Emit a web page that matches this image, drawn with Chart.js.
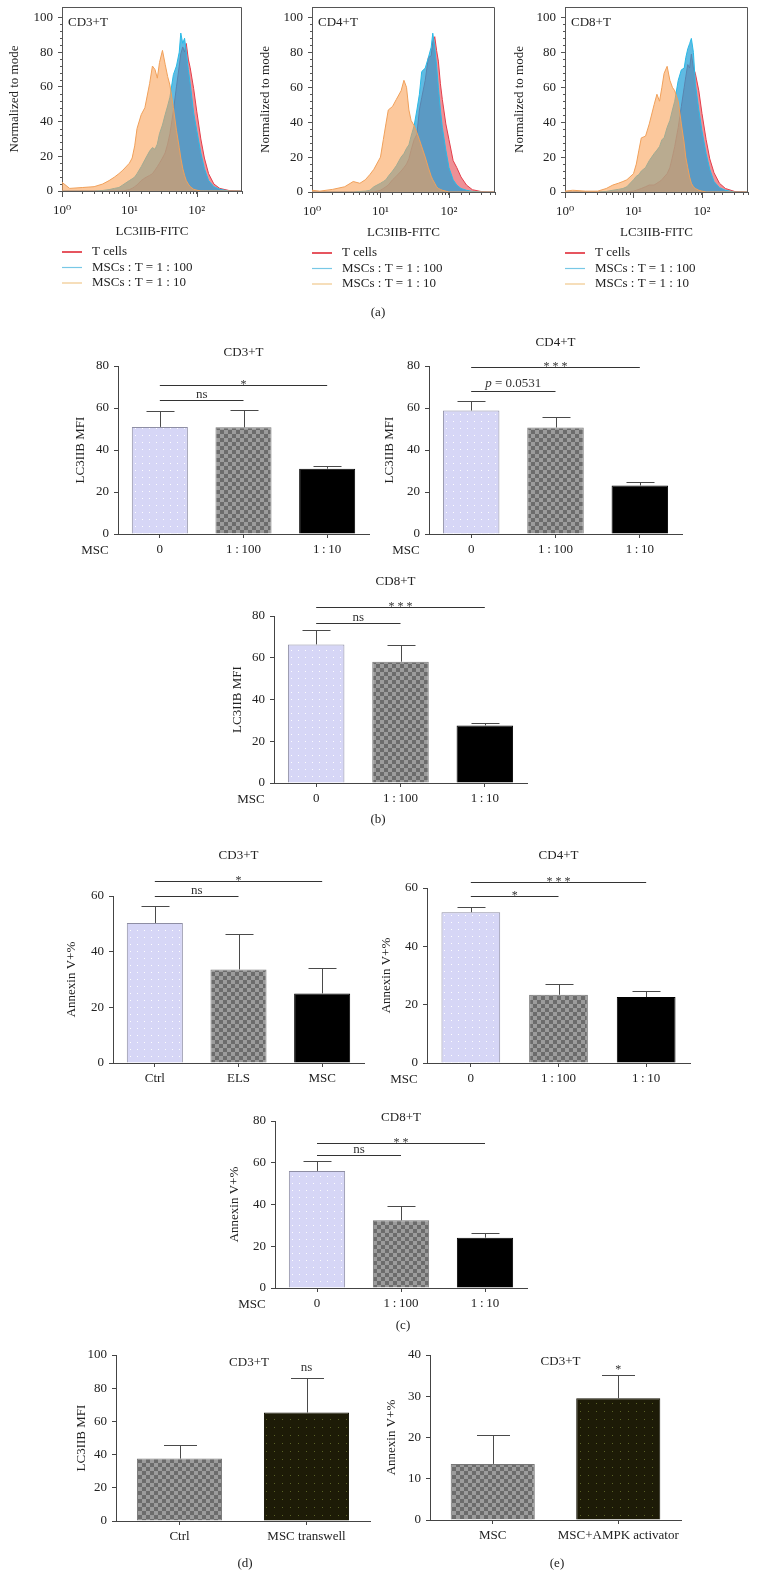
<!DOCTYPE html>
<html>
<head>
<meta charset="utf-8">
<script src="https://cdn.jsdelivr.net/npm/chart.js@4.4.1/dist/chart.umd.min.js"></script>
<style>
  body { margin: 0; background: #fff; }
  #page { position: relative; width: 757px; height: 1589px; overflow: hidden;
          font-family: "Liberation Serif", "DejaVu Serif", serif; color: #222; }
  .box { position: absolute; }
  .panel-label { position: absolute; font-size: 13px; transform: translate(-50%, -50%); white-space: nowrap; }
</style>
</head>
<body>
<div id="page"></div>
<script>
// (a) flow histograms, LC3IIB-FITC on a log axis, shared sampling points
const histX = [1, 1.3, 2, 3, 4, 5, 6, 7, 8, 10, 11, 12, 13, 15, 17, 20, 22, 24, 26, 28, 31, 34, 37, 40, 45, 50, 55, 58, 62, 66, 70, 75, 80, 90, 100, 115, 130, 150, 180, 220, 300, 470];
const histLabels = ['T cells', 'MSCs : T = 1 : 100', 'MSCs : T = 1 : 10'];

const cd3Tcells = [0,0,0,0,0,0,0,0,0,0.8,1.5,2.5,3.5,6,7.5,9,10,12,14,16,19,22,27,33,46,60,72,79,83,80,85,76,71,59,46,30,19,10,4,1.5,0.3,0];
const cd3Msc100 = [0,0,0,0,0.3,0.8,1.5,2,3.5,6,7,8,10,14,18,23,25,24,27,33,38,44,49,54,67,72,80,91,85,88,80,70,62,45,35,22,13,6,2.5,1,0,0];
const cd3Msc10  = [5,1.5,2,2.5,4,6,8,10,12,16,19,26,36,44,48,62,72,70,65,74,81,73,66,61,48,35,25,19,13,9,6,4,2.5,1,0.5,0,0,0,0,0,0,0];

const cd4Tcells = [0,0,0,0,0,0,0,0,0,1,2,3,4,7,9,12,14,16,19,24,30,33,47,54,64,77,78,86,89,81,75,62,53,39,30,18,14,8.6,4,1.3,0.2,0];
const cd4Msc100 = [0,0,0,0,0,0.3,0.5,1,3,5,6,7,9,12,15,20,22,25,27,32,38,47,56,69,71,77,83,91,83,72,60,47,37,24,14,7,4,2,1,0.3,0,0];
const cd4Msc10  = [1,0.5,1.5,3,6,5,7,10,13,20,30,39,47,49,53,58,64,60,47,41,38,34,30,26,20,14,9,7,5,3,2,1.5,1,0.5,0,0,0,0,0,0,0,0];

const cd8Tcells = [0,0,0,0,0,0,0,0,0,0.5,1,1.5,2,3,4,4,5,6,7,8.6,10.5,14,20,26,37,49,60,66,73,71,79,71,68,58,45,30,19,11,5,2,0.3,0];
const cd8Msc100 = [0,0,0,0,0.3,1,1.5,2,3,7,9,10,12,14,18,22,24,26,30,31,37,41,47,52,64,70,71,77,82,85,88,80,62,47,35,22,13,6,2.5,1,0,0];
const cd8Msc10  = [0.5,1,0.5,0.5,2,4,5,6,7,10.5,16,24,31,32,39,50,56,52,60,68,72,64,60,58,52,39,28,20,14,8.6,5,3,2,1,0.5,0,0,0,0,0,0,0];

// bar chart categories
const mscGroups = ['0', '1\u2009:\u2009100', '1\u2009:\u200910'];
const treatGroups = ['Ctrl', 'ELS', 'MSC'];
const transwellGroups = ['Ctrl', 'MSC transwell'];
const ampkGroups = ['MSC', 'MSC+AMPK activator'];

// (b) LC3IIB MFI, mean and error
const lc3Cd3 = [51.0, 50.8, 31.1];
const lc3Cd3Err = [7.7, 8.4, 1.4];
const lc3Cd4 = [58.8, 50.7, 23.1];
const lc3Cd4Err = [4.4, 4.9, 1.8];
const lc3Cd8 = [66.4, 58.1, 27.6];
const lc3Cd8Err = [6.7, 8.2, 1.3];

// (c) Annexin V+ %
const annCd3 = [50.3, 33.6, 25.0];
const annCd3Err = [6.1, 12.8, 9.0];
const annCd4 = [51.7, 23.4, 22.6];
const annCd4Err = [1.7, 3.6, 2.2];
const annCd8 = [56.1, 32.4, 24.1];
const annCd8Err = [4.9, 7.1, 2.2];

// (d) and (e)
const transwellMfi = [37.6, 65.3];
const transwellErr = [8.0, 20.7];
const ampkAnnexin = [13.6, 29.5];
const ampkErr = [7.0, 5.6];

// significance brackets: from/to bar index, height in data units
const lc3Cd3Sig = [{ from: 0, to: 1, y: 64, text: 'ns' }, { from: 0, to: 2, y: 71, text: '*' }];
const lc3Cd4Sig = [{ from: 0, to: 1, y: 68.3, text: 'p = 0.0531' }, { from: 0, to: 2, y: 79.5, text: '***' }];
const lc3Cd8Sig = [{ from: 0, to: 1, y: 76.8, text: 'ns' }, { from: 0, to: 2, y: 84.3, text: '***' }];
const annCd3Sig = [{ from: 0, to: 1, y: 60.1, text: 'ns' }, { from: 0, to: 2, y: 65.5, text: '*' }];
const annCd4Sig = [{ from: 0, to: 1, y: 57.3, text: '*' }, { from: 0, to: 2, y: 62.2, text: '***' }];
const annCd8Sig = [{ from: 0, to: 1, y: 63.9, text: 'ns' }, { from: 0, to: 2, y: 69.6, text: '**' }];

const FONT = '"Liberation Serif", "DejaVu Serif", serif';
Chart.defaults.font.family = FONT;
Chart.defaults.font.size = 13;
Chart.defaults.color = '#222';
Chart.defaults.animation = false;

const page = document.getElementById('page');

function makeCanvas(plot, pad) {
  const l = Math.round(plot.l), t = Math.round(plot.t);
  const w = Math.round(plot.r) - l, h = Math.round(plot.b) - t;
  const div = document.createElement('div');
  div.className = 'box';
  div.style.left = (l - pad.left) + 'px';
  div.style.top = (t - pad.top) + 'px';
  const canvas = document.createElement('canvas');
  canvas.width = w + pad.left + pad.right;
  canvas.height = h + pad.top + pad.bottom;
  div.appendChild(canvas);
  page.appendChild(div);
  return canvas;
}

function addLabel(text, x, y) {
  const el = document.createElement('div');
  el.className = 'panel-label';
  el.textContent = text;
  el.style.left = x + 'px';
  el.style.top = y + 'px';
  page.appendChild(el);
}

// pattern fills for the bars
function tile(size, paint) {
  const c = document.createElement('canvas');
  c.width = c.height = size;
  paint(c.getContext('2d'));
  return c;
}

function makeFill(ctx, kind) {
  if (kind === 'dots') {
    const t = tile(7, g => {
      g.fillStyle = '#d6d6f6'; g.fillRect(0, 0, 7, 7);
      g.fillStyle = 'rgba(255,255,255,0.95)'; g.fillRect(3, 3, 1, 1);
    });
    return { bg: ctx.createPattern(t, 'repeat'), border: '#8e8ea4' };
  }
  if (kind === 'checker') {
    const t = tile(8, g => {
      g.fillStyle = '#9c9c9c'; g.fillRect(0, 0, 8, 8);
      g.fillStyle = '#6c6c6c'; g.fillRect(0, 0, 4, 4); g.fillRect(4, 4, 4, 4);
    });
    return { bg: ctx.createPattern(t, 'repeat'), border: '#777' };
  }
  if (kind === 'olive') {
    const t = tile(8, g => {
      g.fillStyle = '#1d1b07'; g.fillRect(0, 0, 8, 8);
      g.fillStyle = '#5a6226'; g.fillRect(4, 4, 1, 1);
    });
    return { bg: ctx.createPattern(t, 'repeat'), border: '#141305' };
  }
  return { bg: '#000', border: '#000' };
}

function sigText(ctx, text, x, yLine) {
  if (text.startsWith('p')) {
    const rest = text.slice(1);
    ctx.font = 'italic 13px ' + FONT;
    const pw = ctx.measureText('p').width;
    ctx.font = '13px ' + FONT;
    const rw = ctx.measureText(rest).width;
    const x0 = x - (pw + rw) / 2;
    ctx.textAlign = 'left';
    ctx.font = 'italic 13px ' + FONT;
    ctx.fillText('p', x0, yLine - 5);
    ctx.font = '13px ' + FONT;
    ctx.fillText(rest, x0 + pw, yLine - 5);
    ctx.textAlign = 'center';
  } else if (text.startsWith('*')) {
    ctx.font = '12px ' + FONT;
    ctx.fillText(text.split('').join(' '), x, yLine + 2);
  } else {
    ctx.font = '13px ' + FONT;
    ctx.fillText(text, x, yLine - 3);
  }
}

const barExtras = {
  id: 'barExtras',
  afterDatasetsDraw(chart, args, o) {
    const { ctx, chartArea: area, scales: { x, y } } = chart;
    const values = chart.data.datasets[0].data;
    ctx.save();
    ctx.strokeStyle = '#4a4a4a';
    ctx.lineWidth = 1;
    const half = o.cap / 2;
    o.errors.forEach((e, i) => {
      const xc = Math.round(x.getPixelForValue(i)) + 0.5;
      const y0 = y.getPixelForValue(values[i]);
      const y1 = Math.round(y.getPixelForValue(values[i] + e)) + 0.5;
      ctx.beginPath();
      ctx.moveTo(xc, y0); ctx.lineTo(xc, y1);
      ctx.moveTo(xc - half, y1); ctx.lineTo(xc + half, y1);
      ctx.stroke();
    });
    ctx.fillStyle = '#333';
    ctx.textAlign = 'center';
    ctx.textBaseline = 'alphabetic';
    ctx.strokeStyle = '#333';
    (o.sig || []).forEach(s => {
      const xa = x.getPixelForValue(s.from), xb = x.getPixelForValue(s.to);
      const yy = Math.round(y.getPixelForValue(s.y)) + 0.5;
      ctx.beginPath(); ctx.moveTo(xa, yy); ctx.lineTo(xb, yy); ctx.stroke();
      sigText(ctx, s.text, (xa + xb) / 2, yy);
    });
    if (o.above) {
      const i = o.above.index;
      const yTop = y.getPixelForValue(values[i] + o.errors[i]);
      sigText(ctx, o.above.text, x.getPixelForValue(i), yTop - 4);
    }
    ctx.fillStyle = '#222';
    ctx.font = '13px ' + FONT;
    ctx.textBaseline = 'middle';
    ctx.fillText(o.title, (area.left + area.right) / 2 + (o.titleDx || 0), area.top + o.titleDy);
    if (o.rowLabel) {
      ctx.fillText(o.rowLabel, area.left - 23, area.bottom + 17);
    }
    ctx.restore();
  }
};

function barChart(cfg) {
  const pad = { left: 70, right: 12, top: 60, bottom: 40 };
  const canvas = makeCanvas(cfg.plot, pad);
  const fills = cfg.fills.map(k => makeFill(canvas.getContext('2d'), k));
  return new Chart(canvas, {
    type: 'bar',
    data: {
      labels: cfg.labels,
      datasets: [{
        data: cfg.values,
        backgroundColor: fills.map(f => f.bg),
        borderColor: fills.map(f => f.border),
        borderWidth: 1,
        barPercentage: 0.67,
        categoryPercentage: 1
      }]
    },
    options: {
      responsive: false,
      layout: { padding: { top: pad.top, right: pad.right, left: 0, bottom: 0 } },
      plugins: {
        legend: { display: false },
        tooltip: { enabled: false },
        barExtras: {
          errors: cfg.errors, sig: cfg.sig, above: cfg.above, cap: cfg.cap,
          title: cfg.title, titleDy: cfg.titleDy, titleDx: cfg.titleDx, rowLabel: cfg.rowLabel
        }
      },
      scales: {
        x: {
          grid: { drawOnChartArea: false, offset: false, tickLength: 4, color: '#444' },
          border: { color: '#444' },
          ticks: { padding: 4, color: '#222', maxRotation: 0, autoSkip: false },
          afterFit: s => { s.height = pad.bottom; }
        },
        y: {
          min: 0,
          max: cfg.yMax,
          ticks: { stepSize: cfg.step, padding: 5, color: '#222' },
          grid: { drawOnChartArea: false, tickLength: 4, color: '#444' },
          border: { color: '#444' },
          title: { display: true, text: cfg.yTitle, color: '#222', padding: { top: pad.left - cfg.titleDist - 7.8, bottom: 0 } },
          afterFit: s => { s.width = pad.left; }
        }
      }
    },
    plugins: [barExtras]
  });
}

// histogram frame, longer decade ticks, minor y ticks, inner label and legend
const histExtras = {
  id: 'histExtras',
  afterDraw(chart, args, o) {
    const { ctx, chartArea: a, scales: { x, y } } = chart;
    ctx.save();
    ctx.strokeStyle = '#555';
    ctx.lineWidth = 1;
    ctx.beginPath();
    ctx.moveTo(a.left, a.top + 0.5); ctx.lineTo(a.right - 0.5, a.top + 0.5); ctx.lineTo(a.right - 0.5, a.bottom);
    [1, 10, 100].forEach(v => {
      const px = Math.round(x.getPixelForValue(v)) + 0.5;
      ctx.moveTo(px, a.bottom); ctx.lineTo(px, a.bottom + 6);
    });
    for (let v = 4; v < 104; v += 4) {
      if (v % 20 === 0) continue;
      const py = Math.round(y.getPixelForValue(v)) + 0.5;
      ctx.moveTo(a.left, py); ctx.lineTo(a.left - 2, py);
    }
    ctx.stroke();
    ctx.fillStyle = '#222';
    ctx.font = '13px ' + FONT;
    ctx.textBaseline = 'middle';
    ctx.textAlign = 'left';
    ctx.fillText(o.label, a.left + 6, a.top + 16);
    chart.data.datasets.forEach((ds, i) => {
      const yy = a.bottom + 61 + i * 15.5;
      ctx.strokeStyle = ds.legendColor;
      ctx.lineWidth = i === 0 ? 2 : 1.2;
      ctx.beginPath(); ctx.moveTo(a.left, yy); ctx.lineTo(a.left + 20, yy); ctx.stroke();
      ctx.fillText(ds.label, a.left + 30, yy);
    });
    ctx.restore();
  }
};

const histLine = ['rgb(228,62,74)', 'rgb(40,185,230)', 'rgb(240,160,90)'];
const histFill = ['rgba(228,70,80,0.6)', 'rgba(35,160,215,0.72)', 'rgba(250,160,85,0.58)'];
const histLegend = ['rgb(230,85,95)', 'rgb(120,200,230)', 'rgb(240,200,140)'];
const supers = ['\u2070', '\u00b9', '\u00b2', '\u00b3'];

function histChart(cfg) {
  const pad = { left: 60, right: 12, top: 16, bottom: 110 };
  const canvas = makeCanvas(cfg.plot, pad);
  return new Chart(canvas, {
    type: 'line',
    data: {
      datasets: cfg.series.map((vals, i) => ({
        label: histLabels[i],
        data: histX.map((x, k) => ({ x: x, y: vals[k] })),
        borderColor: histLine[i],
        backgroundColor: histFill[i],
        legendColor: histLegend[i],
        fill: 'origin',
        borderWidth: 1,
        pointRadius: 0,
        tension: 0,
        order: 3 - i
      }))
    },
    options: {
      responsive: false,
      layout: { padding: { top: pad.top, right: pad.right, left: 0, bottom: 60 } },
      plugins: { legend: { display: false }, tooltip: { enabled: false }, histExtras: { label: cfg.label } },
      scales: {
        x: {
          type: 'logarithmic',
          min: 1,
          max: 470,
          grid: { drawOnChartArea: false, tickLength: 3, color: '#555' },
          border: { color: '#555' },
          ticks: {
            autoSkip: false, maxRotation: 0, padding: 9, color: '#222',
            callback: v => {
              const e = Math.round(Math.log10(v));
              return Math.abs(Math.log10(v) - e) < 1e-9 ? '10' + supers[e] : '';
            }
          },
          title: { display: true, text: 'LC3IIB-FITC', color: '#222', padding: { top: 0, bottom: 1.2 } },
          afterFit: s => { s.height = 50; }
        },
        y: {
          min: 0,
          max: 106,
          ticks: { stepSize: 20, includeBounds: false, padding: 5, color: '#222' },
          grid: { drawOnChartArea: false, tickLength: 4, color: '#555' },
          border: { color: '#555' },
          title: { display: true, text: 'Normalized to mode', color: '#222', padding: { top: 60 - cfg.titleDist - 7.8, bottom: 0 } },
          afterFit: s => { s.width = pad.left; }
        }
      }
    },
    plugins: [histExtras]
  });
}

// (a)
histChart({ plot: { l: 62, t: 7, r: 242, b: 191 }, series: [cd3Tcells, cd3Msc100, cd3Msc10], label: 'CD3+T', titleDist: 47 });
histChart({ plot: { l: 312, t: 7, r: 495, b: 192 }, series: [cd4Tcells, cd4Msc100, cd4Msc10], label: 'CD4+T', titleDist: 46 });
histChart({ plot: { l: 565, t: 7, r: 748, b: 192 }, series: [cd8Tcells, cd8Msc100, cd8Msc10], label: 'CD8+T', titleDist: 45 });
addLabel('(a)', 378, 312);

// (b)
const triFills = ['dots', 'checker', 'black'];
barChart({ plot: { l: 118, t: 366, r: 369, b: 534 }, labels: mscGroups, values: lc3Cd3, errors: lc3Cd3Err, sig: lc3Cd3Sig,
  fills: triFills, yMax: 80, step: 20, yTitle: 'LC3IIB MFI', titleDist: 37, title: 'CD3+T', titleDy: -13, rowLabel: 'MSC', cap: 28 });
barChart({ plot: { l: 429, t: 366, r: 682, b: 534 }, labels: mscGroups, values: lc3Cd4, errors: lc3Cd4Err, sig: lc3Cd4Sig,
  fills: triFills, yMax: 80, step: 20, yTitle: 'LC3IIB MFI', titleDist: 39, title: 'CD4+T', titleDy: -23, rowLabel: 'MSC', cap: 28 });
barChart({ plot: { l: 274, t: 616, r: 527, b: 783 }, labels: mscGroups, values: lc3Cd8, errors: lc3Cd8Err, sig: lc3Cd8Sig,
  fills: triFills, yMax: 80, step: 20, yTitle: 'LC3IIB MFI', titleDist: 36, title: 'CD8+T', titleDy: -34, titleDx: -5, rowLabel: 'MSC', cap: 28 });
addLabel('(b)', 378, 819);

// (c)
barChart({ plot: { l: 113, t: 896, r: 364, b: 1063 }, labels: treatGroups, values: annCd3, errors: annCd3Err, sig: annCd3Sig,
  fills: triFills, yMax: 60, step: 20, yTitle: 'Annexin V+%', titleDist: 41, title: 'CD3+T', titleDy: -40, cap: 28 });
barChart({ plot: { l: 427, t: 888, r: 690, b: 1063 }, labels: mscGroups, values: annCd4, errors: annCd4Err, sig: annCd4Sig,
  fills: triFills, yMax: 60, step: 20, yTitle: 'Annexin V+%', titleDist: 40, title: 'CD4+T', titleDy: -32, rowLabel: 'MSC', cap: 28 });
barChart({ plot: { l: 275, t: 1121, r: 527, b: 1288 }, labels: mscGroups, values: annCd8, errors: annCd8Err, sig: annCd8Sig,
  fills: triFills, yMax: 80, step: 20, yTitle: 'Annexin V+%', titleDist: 40, title: 'CD8+T', titleDy: -3, rowLabel: 'MSC', cap: 28 });
addLabel('(c)', 403, 1325);

// (d) and (e)
barChart({ plot: { l: 116, t: 1355, r: 370, b: 1521 }, labels: transwellGroups, values: transwellMfi, errors: transwellErr,
  above: { index: 1, text: 'ns' }, fills: ['checker', 'olive'], yMax: 100, step: 20, yTitle: 'LC3IIB MFI', titleDist: 34,
  title: 'CD3+T', titleDy: 8, titleDx: 6, cap: 33 });
barChart({ plot: { l: 430, t: 1355, r: 681, b: 1520 }, labels: ampkGroups, values: ampkAnnexin, errors: ampkErr,
  above: { index: 1, text: '*' }, fills: ['checker', 'olive'], yMax: 40, step: 10, yTitle: 'Annexin V+%', titleDist: 38,
  title: 'CD3+T', titleDy: 7, titleDx: 5, cap: 33 });
addLabel('(d)', 245, 1563);
addLabel('(e)', 557, 1563);
</script>
</body>
</html>
